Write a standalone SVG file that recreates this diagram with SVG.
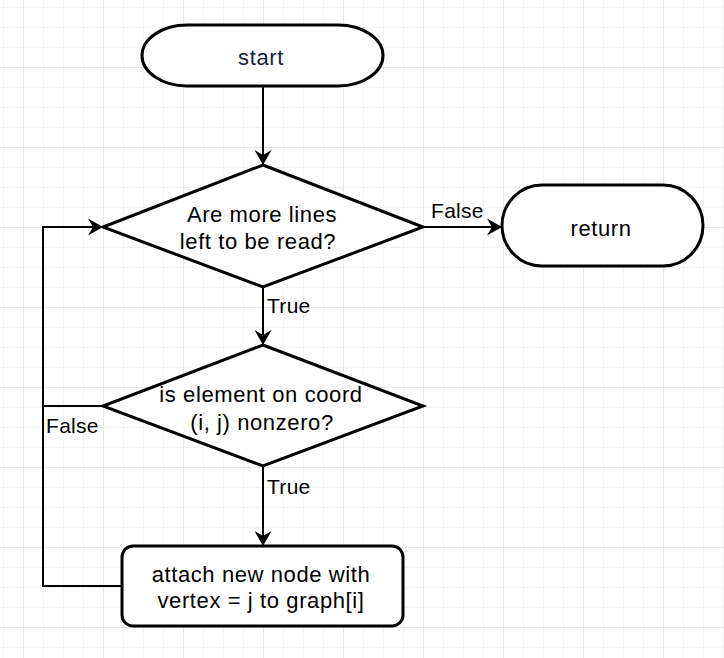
<svg xmlns="http://www.w3.org/2000/svg" width="724" height="658" viewBox="0 0 724 658">
  <defs>
    <pattern id="grid" patternUnits="userSpaceOnUse" x="23" y="67" width="80" height="80">
      <path d="M20.5,0V80M40.5,0V80M60.5,0V80M0,20.5H80M0,40.5H80M0,60.5H80" stroke="#f3f3f3" stroke-width="1" fill="none"/>
      <path d="M0.5,0V80M0,0.5H80" stroke="#e6e6e6" stroke-width="1" fill="none"/>
    </pattern>
    <marker id="arrow" markerUnits="userSpaceOnUse" viewBox="0 0 16 18" markerWidth="16" markerHeight="18" refX="15" refY="9" orient="auto">
      <path d="M15,9 L0,0.5 L5,9 L0,17.5 Z" fill="#000"/>
    </marker>
    <style>
      .shape { fill: #fff; stroke: #000; stroke-width: 3; }
      .edge { fill: none; stroke: #000; stroke-width: 2; }
      .txt { font-family: "Liberation Sans", Arial, Helvetica, sans-serif; font-size: 22px; letter-spacing: 0.6px; fill: #000; text-anchor: middle; }
      .lbl { font-family: "Liberation Sans", Arial, Helvetica, sans-serif; font-size: 21px; letter-spacing: 0.3px; fill: #000; }
    </style>
  </defs>
  <rect width="724" height="658" fill="#fff"/>
  <rect width="724" height="658" fill="url(#grid)"/>

  <g id="connectors">
    <path class="edge" d="M263,86 V165" marker-end="url(#arrow)"/>
    <path class="edge" d="M423,227 H502" marker-end="url(#arrow)"/>
    <path class="edge" d="M263,287 V345" marker-end="url(#arrow)"/>
    <path class="edge" d="M263,466 V546" marker-end="url(#arrow)"/>
    <path class="edge" d="M122,586 H43 V227 H103" marker-end="url(#arrow)"/>
    <path class="edge" d="M103,406 H43"/>
    <text class="lbl" x="431" y="218">False</text>
    <text class="lbl" x="267" y="313">True</text>
    <text class="lbl" x="267" y="494">True</text>
    <text class="lbl" x="46" y="433">False</text>
  </g>

  <g id="start">
    <rect class="shape" x="142" y="25" width="241" height="61" rx="45" ry="30.5"/>
    <text class="txt" x="261" y="65" style="fill:#14233a">start</text>
  </g>

  <g id="decision-lines">
    <polygon class="shape" points="263,165 423,227 263,287 103,227"/>
    <text class="txt" x="262" y="222">Are more lines</text>
    <text class="txt" x="258" y="249">left to be read?</text>
  </g>

  <g id="return">
    <rect class="shape" x="502" y="185" width="201" height="81" rx="40" ry="40.5"/>
    <text class="txt" x="601" y="236">return</text>
  </g>

  <g id="decision-nonzero">
    <polygon class="shape" points="263,345 423,406 263,466 103,406"/>
    <text class="txt" x="261" y="402">is element on coord</text>
    <text class="txt" x="262" y="430">(i, j) nonzero?</text>
  </g>

  <g id="attach">
    <rect class="shape" x="122" y="546" width="281" height="80" rx="11"/>
    <text class="txt" x="261" y="582">attach new node with</text>
    <text class="txt" x="261" y="608">vertex = j to graph[i]</text>
  </g>
</svg>
